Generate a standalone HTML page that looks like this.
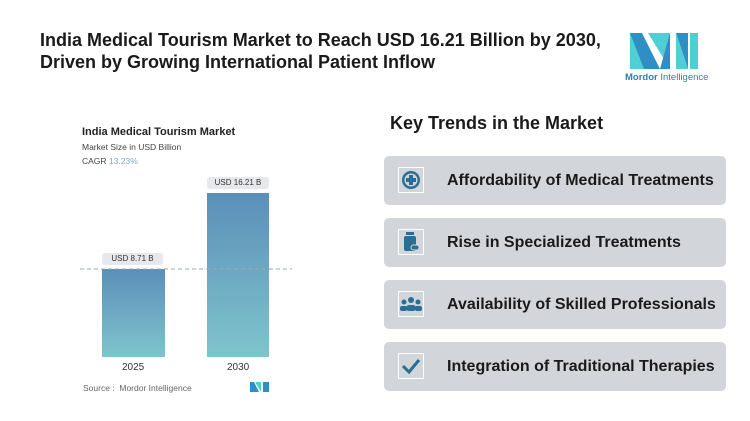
<!DOCTYPE html><html><head><style>
body{margin:0;width:750px;height:421px;background:#fff;font-family:"Liberation Sans",sans-serif;position:relative;overflow:hidden}
.a{position:absolute}
.t{left:40px;top:29px;font-size:18px;font-weight:bold;color:#1a1a1a;line-height:22px}
.box{position:absolute;left:384px;width:342px;height:49px;background:#d2d5da;border-radius:5px}
.ic{position:absolute;left:14px;top:11px;width:26px;height:26px;border:1.5px solid #fff;box-sizing:border-box;display:flex;align-items:center;justify-content:center}
.bt{position:absolute;left:63px;top:16px;font-size:16px;font-weight:bold;color:#1a1a1a}
.lbl{position:absolute;background:#e6e8eb;border-radius:3px;font-size:8px;color:#333;text-align:center;height:12px;line-height:12px}
</style></head><body>
<div class="a t">India Medical Tourism Market to Reach USD 16.21 Billion by 2030,<br>Driven by Growing International Patient Inflow</div>
<svg class="a" style="left:630px;top:33px" width="68" height="40"><polygon points="0,0 12,0 30,36 18,36 0,36" fill="#2f8fc4"/><polygon points="0,0 0,36 14,36" fill="#4fcfd3"/><polygon points="18,0 40,0 40,36" fill="#4fcfd3"/><polygon points="40,0 40,36 30,36" fill="#2f8fc4"/><polygon points="46,0 58,0 58,36" fill="#2f8fc4"/><polygon points="46,0 46,36 58,36" fill="#4fcfd3"/><polygon points="60,0 68,0 68,36 60,36" fill="#4fcfd3"/></svg>
<div class="a" style="left:625px;top:72px;font-size:9.5px;color:#2f7fb0"><b>Mordor</b> Intelligence</div>
<div class="a" style="left:82px;top:126px;font-size:11px;font-weight:bold;color:#222">India Medical Tourism Market</div>
<div class="a" style="left:82px;top:142px;font-size:8.5px;color:#444">Market Size in USD Billion</div>
<div class="a" style="left:82px;top:156px;font-size:8.5px;color:#444">CAGR <span style="color:#7aa9c9">13.23%</span></div>
<svg class="a" style="left:0;top:0" width="380" height="421"><defs><linearGradient id="g" x1="0" y1="0" x2="0" y2="1"><stop offset="0" stop-color="#5b8fb9"/><stop offset="1" stop-color="#7fc4cc"/></linearGradient></defs>
<rect x="102" y="269" width="63" height="88" fill="url(#g)"/><rect x="207" y="193" width="62" height="164" fill="url(#g)"/>
<line x1="80" y1="269" x2="292" y2="269" stroke="#9aa8b4" stroke-dasharray="4,3" stroke-width="1"/></svg>
<div class="lbl" style="left:102px;top:253px;width:61px">USD 8.71 B</div>
<div class="lbl" style="left:207px;top:177px;width:62px">USD 16.21 B</div>
<div class="a" style="left:122px;top:362px;font-size:10px;color:#333">2025</div>
<div class="a" style="left:227px;top:362px;font-size:10px;color:#333">2030</div>
<div class="a" style="left:83px;top:383px;font-size:8.5px;color:#666">Source :&nbsp; Mordor Intelligence</div>
<svg class="a" style="left:250px;top:382px" width="19" height="10"><polygon points="0,0 4,0 9,10 0,10" fill="#2f8fc4"/><polygon points="5,0 11,0 11,10" fill="#4fcfd3"/><polygon points="13,0 19,0 19,10 13,10" fill="#2f8fc4"/></svg>
<div class="a" style="left:390px;top:113px;font-size:18px;font-weight:bold;color:#1a1a1a">Key Trends in the Market</div>
<div class="box" style="top:156px"><div class="ic"><svg width="20" height="20"><circle cx="10" cy="10" r="9" fill="#2a6f93"/><circle cx="10" cy="10" r="6.5" fill="#d2d5da"/><rect x="8" y="5" width="4" height="10" fill="#2a6f93"/><rect x="5" y="8" width="10" height="4" fill="#2a6f93"/></svg></div><div class="bt">Affordability of Medical Treatments</div></div>
<div class="box" style="top:218px"><div class="ic"><svg width="16" height="20"><rect x="3" y="0" width="8" height="3" fill="#2a6f93"/><rect x="1" y="4" width="12" height="15" rx="2" fill="#2a6f93"/><rect x="8" y="13" width="8" height="5" rx="2.5" fill="#2a6f93" stroke="#d2d5da"/></svg></div><div class="bt">Rise in Specialized Treatments</div></div>
<div class="box" style="top:280px"><div class="ic"><svg width="22" height="16"><circle cx="11" cy="4" r="3" fill="#2a6f93"/><circle cx="4" cy="6" r="2.5" fill="#2a6f93"/><circle cx="18" cy="6" r="2.5" fill="#2a6f93"/><rect x="6" y="9" width="10" height="6" rx="3" fill="#2a6f93"/><rect x="0" y="10" width="7" height="5" rx="2" fill="#2a6f93"/><rect x="15" y="10" width="7" height="5" rx="2" fill="#2a6f93"/></svg></div><div class="bt">Availability of Skilled Professionals</div></div>
<div class="box" style="top:342px"><div class="ic"><svg width="20" height="16"><polyline points="2,8 8,14 18,2" fill="none" stroke="#2a6f93" stroke-width="3"/></svg></div><div class="bt">Integration of Traditional Therapies</div></div>
</body></html>
